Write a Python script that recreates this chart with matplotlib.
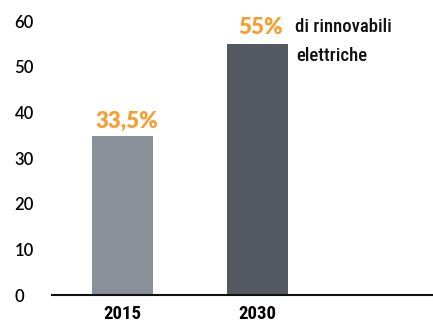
import matplotlib
matplotlib.use("Agg")
import matplotlib.pyplot as plt

years = ["2015", "2030"]
heights = [34.8, 55.0]
value_labels = ["33,5%", "55%"]
bar_colors = ["#8a9099", "#545961"]
yticks = [0, 10, 20, 30, 40, 50, 60]

narrow = ["Roboto Condensed", "Liberation Sans Narrow", "DejaVu Sans Condensed", "Roboto"]
heavy = ["Lato", "Open Sans", "DejaVu Sans"]

fig = plt.figure(figsize=(4.33, 3.29), dpi=100)
ax = fig.add_axes([52 / 433, 34 / 329, 381 / 433, 295 / 329])

x = list(range(len(years)))
ax.bar(x, heights, width=0.45, color=bar_colors, zorder=2)
ax.set_xlim(-0.522, 2.3)
ax.set_ylim(0, 64.6)

for s in ["top", "right", "left"]:
    ax.spines[s].set_visible(False)
ax.spines["bottom"].set_linewidth(1.5)
ax.spines["bottom"].set_color("#111111")

ax.set_yticks(yticks)
ax.set_yticklabels([str(t) for t in yticks], fontfamily=heavy, fontsize=12,
                   fontweight="semibold", ha="left")
ax.tick_params(axis="y", length=0, pad=27)
ax.set_xticks(x)
ax.set_xticklabels(years, fontfamily=narrow, fontsize=13.5, fontweight="bold")
ax.tick_params(axis="x", length=0, pad=7)

orange = "#f5a033"
ax.text(x[0] + 0.03, heights[0] + 1.0, value_labels[0], ha="center", va="bottom",
        color=orange, fontfamily=heavy, fontweight="heavy", fontsize=16)
ax.text(x[1] + 0.02, heights[1] + 1.3, value_labels[1], ha="center", va="bottom",
        color=orange, fontfamily=heavy, fontweight="heavy", fontsize=16)
ax.text(x[1] + 0.28, heights[1] + 1.7, "di rinnovabili", ha="left", va="bottom",
        fontfamily=narrow, fontsize=13.5, fontweight="medium", color="#111111")
ax.text(x[1] + 0.29, heights[1] - 4.6, "elettriche", ha="left", va="bottom",
        fontfamily=narrow, fontsize=13.5, fontweight="medium", color="#111111")

fig.savefig("out.png", dpi=100)
